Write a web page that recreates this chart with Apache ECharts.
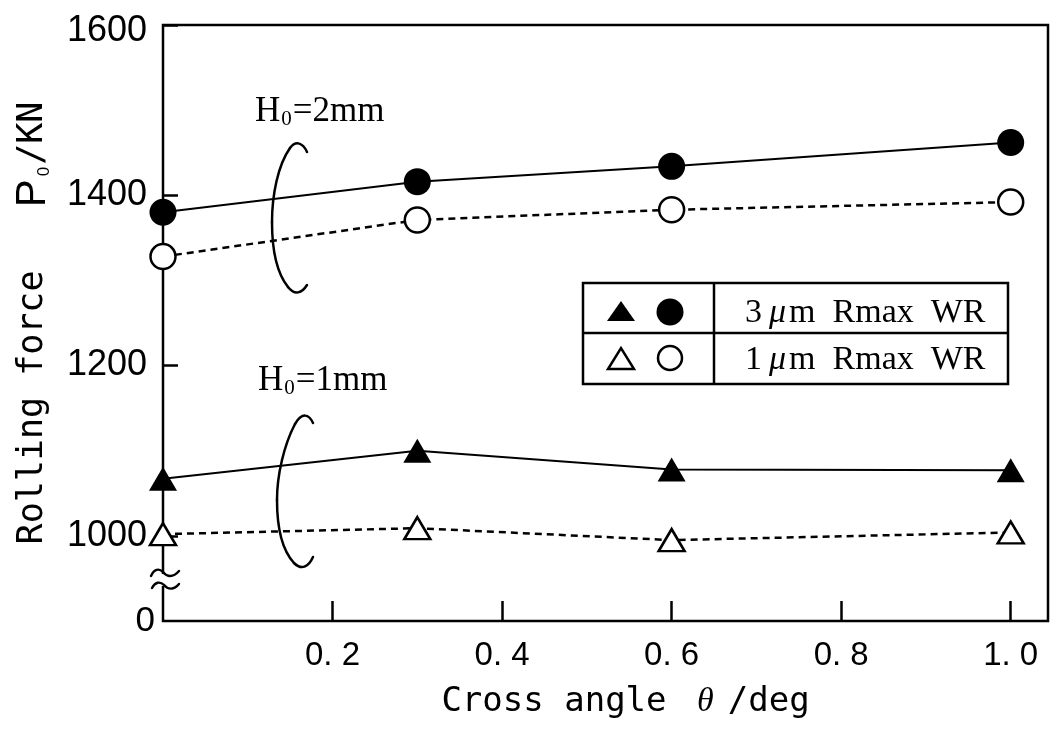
<!DOCTYPE html>
<html>
<head>
<meta charset="utf-8">
<title>Rolling force vs cross angle</title>
<script src="https://cdn.jsdelivr.net/npm/echarts@6/dist/echarts.min.js"></script>
<style>
  html, body { margin: 0; padding: 0; background: #fff; }
  #main { width: 1050px; height: 745px; }
</style>
</head>
<body>
<div id="main"></div>
<script>
// Cross angle of the work rolls (deg)
const angles = [0, 0.3, 0.6, 1.0];

// Rolling force P0 (kN) for each entry thickness H0 and work-roll roughness
const force3umH2 = [1380, 1416, 1434, 1462];
const force1umH2 = [1328, 1371, 1383, 1392];
const force3umH1 = [1067, 1100, 1078, 1077];
const force1umH1 = [1002, 1009, 995, 1004];

// Axis ticks and their labels
const xTicks = [0.2, 0.4, 0.6, 0.8, 1.0];
const xTickLabels = ['0. 2', '0. 4', '0. 6', '0. 8', '1. 0'];
const yFloor = 900;               // bottom of the broken axis, labelled 0
const yTicks = [1000, 1200, 1400, 1600];
const yLabelValues = [900, 1000, 1200, 1400, 1600];
const yTickLabels = ['0', '1000', '1200', '1400', '1600'];

const INK = '#000';
const SERIF = '"Liberation Serif", "DejaVu Serif", serif';
const SANS = '"Liberation Sans", Arimo, "DejaVu Sans", sans-serif';
const MONO = '"DejaVu Sans Mono", "Liberation Mono", monospace';

function lineSeries(name, values, symbol, filled, dashed) {
  const isCircle = symbol === 'circle';
  return {
    type: 'line',
    name: name,
    data: angles.map((a, i) => [a, values[i]]),
    symbol: symbol,
    symbolSize: isCircle ? (filled ? 27 : 25) : (filled ? [28, 24] : [26, 22]),
    showSymbol: true,
    itemStyle: {
      color: filled ? INK : '#fff',
      borderColor: INK,
      borderWidth: filled ? 0 : 2.5
    },
    lineStyle: {
      color: INK,
      width: dashed ? 2.5 : 2,
      type: dashed ? [7, 5] : 'solid'
    },
    emphasis: { disabled: true },
    animation: false
  };
}

// A chain of cubic curves: start point, then [c1x, c1y, c2x, c2y, x, y] per segment
function curveChain(start, segments, width, z) {
  const out = [];
  let p = start;
  segments.forEach(s => {
    out.push({
      type: 'bezierCurve', z: z,
      shape: { x1: p[0], y1: p[1], cpx1: s[0], cpy1: s[1], cpx2: s[2], cpy2: s[3], x2: s[4], y2: s[5] },
      style: { fill: 'none', stroke: INK, lineWidth: width, lineCap: 'round' }
    });
    p = [s[4], s[5]];
  });
  return out;
}

function keyText(y, lead) {
  return {
    type: 'text', z: 61, x: 745, y: y,
    style: {
      text: '{t|' + lead + '}{u|μ}{t|m  Rmax  WR}', verticalAlign: 'middle',
      rich: {
        t: { fontFamily: SERIF, fontSize: 34, fill: INK },
        u: { fontFamily: SERIF, fontStyle: 'italic', fontSize: 34, fill: INK, padding: [0, 3, 0, 7] }
      }
    }
  };
}

function thicknessLabel(x, y, mm) {
  return {
    type: 'text', z: 50, x: x, y: y,
    style: {
      text: '{h|H}{s|0}{h|=' + mm + 'mm}', verticalAlign: 'middle',
      rich: {
        h: { fontFamily: SERIF, fontSize: 35, fill: INK, lineHeight: 35 },
        s: { fontFamily: SERIF, fontSize: 21, fill: INK, lineHeight: 35, verticalAlign: 'bottom', padding: [0, 1, 0, 1] }
      }
    }
  };
}

const chart = echarts.init(document.getElementById('main'), null, { renderer: 'canvas' });

const graphics = [].concat(
  // axis break on the force axis
  [{ type: 'rect', z: 100, shape: { x: 156, y: 574, width: 14, height: 12 }, style: { fill: '#fff' } }],
  curveChain([151, 576], [[154, 569, 159, 568, 163, 572], [167, 577, 173, 578, 179, 571]], 2.4, 101),
  curveChain([152, 588], [[155, 582, 160, 581, 164, 585], [168, 590, 174, 590, 179, 584]], 2.4, 101),

  // group brackets
  curveChain([307, 152], [
    [303, 143, 296, 140, 290, 148],
    [278, 165, 272, 195, 272, 222],
    [272, 250, 276, 272, 288, 287],
    [295, 296, 302, 293, 307, 285]
  ], 2.5, 50),
  curveChain([313, 423], [
    [309, 414, 302, 412, 295, 424],
    [284, 445, 277, 475, 277, 500],
    [277, 528, 282, 550, 294, 563],
    [302, 571, 309, 566, 313, 557]
  ], 2.5, 50),

  [
    thicknessLabel(255, 112, 2),
    thicknessLabel(258, 381, 1),

    // key table
    { type: 'rect', z: 60, shape: { x: 583, y: 283, width: 425, height: 101 },
      style: { fill: '#fff', stroke: INK, lineWidth: 2.5 } },
    { type: 'line', z: 61, shape: { x1: 583, y1: 333, x2: 1008, y2: 333 }, style: { stroke: INK, lineWidth: 2.5 } },
    { type: 'line', z: 61, shape: { x1: 714, y1: 283, x2: 714, y2: 384 }, style: { stroke: INK, lineWidth: 2.5 } },
    { type: 'polygon', z: 61, shape: { points: [[607, 321], [635, 321], [621, 301]] }, style: { fill: INK } },
    { type: 'circle', z: 61, shape: { cx: 670, cy: 312, r: 13.5 }, style: { fill: INK } },
    { type: 'polygon', z: 61, shape: { points: [[608, 369], [634, 369], [621, 348]] },
      style: { fill: '#fff', stroke: INK, lineWidth: 2.5 } },
    { type: 'circle', z: 61, shape: { cx: 670, cy: 358, r: 12 },
      style: { fill: '#fff', stroke: INK, lineWidth: 2.5 } },
    keyText(313, '3'),
    keyText(360, '1')
  ]
);

const option = {
  backgroundColor: '#fff',
  animation: false,
  grid: {
    left: 163, right: 2, top: 25, bottom: 124,
    show: true, borderColor: INK, borderWidth: 2.5, backgroundColor: 'transparent'
  },
  xAxis: {
    type: 'value',
    min: 0,
    max: 1.044,
    name: '{a|Cross angle }{t|θ}{a|/deg}',
    nameLocation: 'middle',
    nameGap: 64,
    nameTextStyle: {
      padding: [0, 0, 0, 40],
      rich: {
        a: { fontFamily: MONO, fontSize: 34, color: INK },
        t: { fontFamily: SERIF, fontStyle: 'italic', fontSize: 34, color: INK, padding: [0, 14, 0, 10] }
      }
    },
    axisLine: { show: false },
    splitLine: { show: false },
    axisTick: {
      show: true, inside: true, length: 20, customValues: xTicks,
      lineStyle: { color: INK, width: 2.5 }
    },
    axisLabel: {
      customValues: xTicks,
      margin: 18,
      color: INK,
      fontFamily: SANS,
      fontSize: 33,
      formatter: v => {
        const i = xTicks.findIndex(t => Math.abs(t - v) < 1e-9);
        return i >= 0 ? xTickLabels[i] : '';
      }
    }
  },
  yAxis: {
    type: 'value',
    min: yFloor,
    max: 1600,
    name: '{a|Rolling force   }{p|P}{s|0}{a|/KN}',
    nameLocation: 'middle',
    nameRotate: 90,
    nameGap: 110,
    nameTextStyle: {
      rich: {
        a: { fontFamily: MONO, fontSize: 35, color: INK, lineHeight: 40 },
        p: { fontFamily: SANS, fontSize: 42, color: INK, lineHeight: 40 },
        s: { fontFamily: SANS, fontSize: 17, color: INK, lineHeight: 40, verticalAlign: 'bottom', padding: [0, 2, 0, 3] }
      }
    },
    axisLine: { show: false },
    splitLine: { show: false },
    axisTick: {
      show: true, inside: true, length: 15, customValues: yTicks,
      lineStyle: { color: INK, width: 2.5 }
    },
    axisLabel: {
      customValues: yLabelValues,
      margin: 8,
      color: INK,
      formatter: v => {
        const i = yLabelValues.indexOf(v);
        if (i < 0) return '';
        if (v === yFloor) return '{z|' + yTickLabels[i] + '}';
        if (i === yLabelValues.length - 1) return '{t|' + yTickLabels[i] + '}';
        return '{n|' + yTickLabels[i] + '}';
      },
      rich: {
        n: { fontFamily: SANS, fontSize: 36, color: INK, padding: [0, 8, 0, 0] },
        t: { fontFamily: SANS, fontSize: 36, color: INK, padding: [12, 8, 0, 0] },
        z: { fontFamily: SANS, fontSize: 35, color: INK }
      }
    }
  },
  series: [
    lineSeries('3 µm Rmax WR, H0 = 2 mm', force3umH2, 'circle', true, false),
    lineSeries('1 µm Rmax WR, H0 = 2 mm', force1umH2, 'circle', false, true),
    lineSeries('3 µm Rmax WR, H0 = 1 mm', force3umH1, 'triangle', true, false),
    lineSeries('1 µm Rmax WR, H0 = 1 mm', force1umH1, 'triangle', false, true)
  ],
  graphic: graphics
};

chart.setOption(option);
</script>
</body>
</html>
